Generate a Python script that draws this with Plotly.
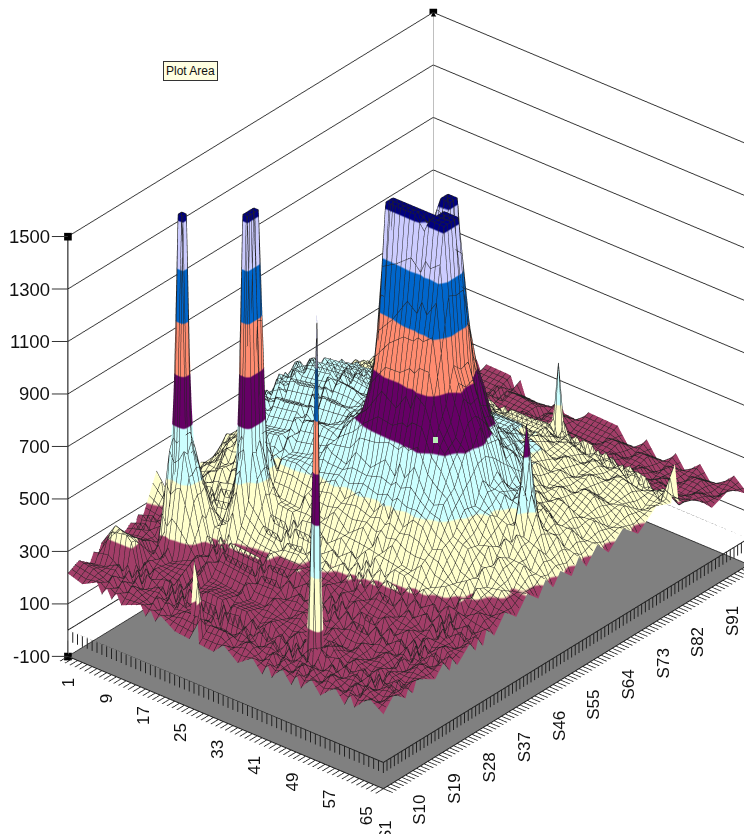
import plotly.graph_objects as go

x_nodes = [1,4,7,8,9,10,11,12,16,17,18,19,20,23,26,27,28,31,33,36,39,41,42,43,45,47,48,49,51,53,56,58,59,60,63,66]
y_nodes = [1,4,7,8,9,10,15,18,19,20,21,25,26,27,28,29,31,34,37,40,43,45,47,49,52,54,56,59,62,66,70,75,79,80,81,85,90,95,100]

z_rows = [
[216,240,205,238,212,252,226,262,230,276,248,400,262,305,276,300,318,280,330,296,322,284,336,290,328,296,340,300,356,322,372,318,352,302,340,296,304,262,268],
[198,232,214,250,330,345,240,284,248,296,262,318,286,322,296,334,300,378,352,436,402,468,428,492,452,498,444,480,416,452,384,418,344,388,330,342,262,286,228],
[228,204,246,210,340,325,268,232,292,256,314,282,338,298,352,318,392,372,470,450,536,498,566,520,590,532,576,488,524,426,462,376,402,338,372,280,292,232,256],
[190,236,198,242,320,318,222,284,250,304,272,340,306,362,322,378,356,456,448,552,522,590,552,618,576,624,556,590,496,528,430,452,354,402,344,326,244,268,208],
[222,196,238,200,244,208,266,600,640,610,620,298,352,318,378,336,420,414,516,510,590,552,622,580,644,588,622,546,566,476,494,402,414,350,388,278,286,220,248],
[186,232,194,240,202,252,224,560,1500,1500,640,300,362,320,382,342,428,420,526,520,598,562,632,592,656,600,634,552,570,482,500,404,416,354,390,274,284,218,246],
[218,194,236,192,244,210,270,580,1500,1500,660,356,316,376,336,398,378,480,480,578,552,626,586,656,616,660,590,614,522,542,450,460,362,404,342,322,234,260,200],
[180,230,188,238,210,240,226,620,600,640,610,310,368,330,392,352,438,430,540,530,612,576,648,606,676,616,650,566,580,490,506,408,420,352,392,270,282,210,244],
[212,188,230,186,238,208,262,258,322,280,338,318,380,340,404,366,450,446,552,544,624,590,662,622,686,624,660,574,590,498,512,412,426,358,398,274,284,206,242],
[176,228,182,236,192,244,290,256,318,274,336,450,610,640,600,620,454,452,556,548,628,594,666,628,690,626,662,576,594,500,516,414,428,360,400,272,282,204,240],
[208,182,232,176,240,206,232,304,264,324,284,600,1500,1500,1500,1500,620,508,508,606,578,654,616,684,638,676,608,630,540,558,462,472,372,416,344,324,226,254,186],
[172,224,170,234,188,244,280,250,312,270,334,620,1500,1500,1500,1500,640,460,564,556,636,600,672,630,692,620,660,574,594,502,518,416,428,358,400,268,280,200,238],
[204,176,228,172,236,200,226,298,258,316,278,430,610,600,640,590,412,516,516,612,584,660,620,686,636,672,604,628,538,556,460,472,370,412,342,320,222,250,184],
[166,216,176,228,172,238,218,290,250,312,272,362,324,388,346,410,406,522,530,622,592,664,622,684,624,668,596,624,532,552,458,470,368,410,340,318,218,248,180],
[160,212,170,226,165,232,210,284,242,306,266,350,314,380,336,402,398,500,560,610,630,640,650,640,660,620,650,580,600,510,500,420,410,370,380,300,230,236,190],
[470,196,222,156,232,182,262,230,294,254,318,300,366,326,390,350,452,470,592,598,666,622,680,630,672,604,642,562,582,494,510,412,422,352,392,264,270,190,228],
[156,202,158,218,168,226,206,270,238,294,262,334,306,372,332,386,420,486,574,640,684,650,700,650,660,640,630,590,566,504,500,416,414,360,384,290,224,226,182],
[150,210,152,226,162,226,202,274,236,298,260,342,304,368,328,394,394,520,554,716,714,780,712,744,650,678,600,620,530,546,456,466,366,404,338,314,216,240,176],
[192,154,212,146,222,172,250,218,282,242,306,284,350,310,374,336,440,464,616,754,1026,1500,1500,1180,886,736,706,584,588,496,508,412,416,350,388,260,266,186,224],
[146,206,148,222,156,226,196,264,224,288,248,328,290,354,316,382,382,514,580,846,1094,1500,1500,1320,1046,854,766,604,594,498,508,410,416,350,386,258,264,184,222],
[188,150,204,148,212,164,242,208,272,230,294,270,336,296,362,324,428,460,634,804,1186,1500,1500,1400,1500,1500,1020,654,604,502,510,410,420,358,396,258,262,182,220],
[142,202,150,204,156,222,186,256,216,278,238,316,278,344,304,370,370,510,586,866,1154,1450,1500,1350,1500,1500,1066,674,610,504,510,410,422,436,352,308,208,232,166],
[194,146,198,152,202,166,236,202,264,224,288,260,326,288,352,314,418,456,642,824,1206,1500,1500,1500,1100,934,826,634,596,500,510,412,394,660,388,310,208,232,166],
[144,198,150,198,158,214,182,252,210,274,232,308,270,336,296,362,362,506,594,886,1164,1500,1500,1500,1080,966,764,676,538,550,456,462,372,446,354,308,206,230,164],
[198,150,196,156,202,164,230,196,258,216,280,250,314,276,340,302,406,448,652,854,1226,1500,1500,1500,1060,894,796,614,582,492,504,406,418,352,390,254,256,176,214],
[148,206,160,1500,220,218,174,244,202,262,224,296,256,322,282,346,346,492,574,746,854,986,954,966,774,756,634,616,504,526,440,450,362,400,334,304,202,226,160],
[202,156,204,230,192,248,172,242,200,260,220,292,252,316,278,342,342,486,554,726,794,926,894,906,734,726,614,602,494,516,432,446,358,398,332,304,202,226,160],
[150,208,162,220,200,220,170,240,198,258,218,288,248,312,274,338,338,480,538,706,744,876,834,846,694,696,594,586,482,506,424,442,356,396,330,302,200,224,158],
[204,158,206,164,210,166,220,184,246,200,266,230,294,254,318,278,376,410,556,594,706,704,766,684,676,584,596,494,502,430,460,380,402,338,376,248,250,170,208],
[154,212,166,208,168,214,170,232,190,248,208,274,232,296,254,318,306,426,450,526,514,596,554,596,504,536,462,490,414,454,388,420,342,382,318,298,196,220,154],
[208,162,208,168,212,170,224,178,238,192,254,214,276,232,294,252,334,322,426,414,502,480,546,504,516,446,484,414,450,386,426,356,384,322,362,244,246,166,206],
[158,216,170,212,172,218,174,232,186,242,198,260,216,276,232,292,264,346,334,426,398,466,444,586,434,472,408,446,382,422,360,396,324,366,304,294,192,218,156],
[212,166,212,170,214,172,228,178,236,188,248,206,266,220,280,236,310,286,374,360,436,404,546,826,454,466,400,438,374,416,354,390,320,362,300,292,192,218,158],
[162,220,174,216,176,222,178,232,182,238,194,256,210,268,224,284,252,330,310,398,370,442,414,566,404,450,388,428,366,408,346,384,316,358,296,290,190,218,160],
[222,176,222,180,224,182,238,184,240,190,248,202,258,210,268,222,288,250,322,292,366,326,392,354,398,342,388,328,372,314,360,300,342,284,330,232,242,170,216],
[183,236,192,234,194,240,196,252,194,254,198,258,210,266,210,268,224,288,244,306,262,318,270,316,270,326,272,330,274,332,276,338,314,456,300,288,202,232,166],
]

for i, r in enumerate(z_rows):
    if len(r) != len(y_nodes):
        raise ValueError(f"row {i} has {len(r)}")
if len(z_rows) != len(x_nodes):
    raise ValueError(f"rows {len(z_rows)}")

z_by_y = [list(c) for c in zip(*z_rows)]

band_edges = [-100, 100, 300, 500, 700, 900, 1100, 1300, 1480, 1500]
band_colors = ["#808080", "#A23E68", "#FFFFCC", "#CCFFFF", "#660066", "#FF8C70", "#0066CC", "#CCCCFF", "#000080"]

zmin, zmax = -100, 1500
scale = []
for i, col in enumerate(band_colors):
    scale.append([(band_edges[i] - zmin) / (zmax - zmin), col])
    scale.append([(band_edges[i + 1] - zmin) / (zmax - zmin), col])

x_ticks = list(range(1, 67))
y_ticks = list(range(1, 101))
x_label_vals = [1, 9, 17, 25, 33, 41, 49, 57, 65]
y_label_vals = [1, 10, 19, 28, 37, 46, 55, 64, 73, 82, 91]
z_ticks = [-100, 100, 300, 500, 700, 900, 1100, 1300, 1500]

fig = go.Figure()
fig.add_trace(go.Surface(
    x=x_nodes, y=y_nodes, z=z_by_y,
    surfacecolor=z_by_y, cmin=zmin, cmax=zmax, colorscale=scale, showscale=False,
    lighting=dict(ambient=1, diffuse=0, specular=0, roughness=1, fresnel=0),
    contours=dict(
        x=dict(show=True, start=1, end=66, size=1, color="#222222", width=1),
        y=dict(show=True, start=1, end=100, size=1, color="#222222", width=1),
        z=dict(show=False)),
    hoverinfo="skip"))

# base line at z=0 and its hatch marks
hx, hy, hz = [], [], []
for v in x_ticks:
    hx += [v, v, None]; hy += [1, 1, None]; hz += [0, -40, None]
for v in y_ticks:
    hx += [66, 66, None]; hy += [v, v, None]; hz += [0, -40, None]
hx += [1, 66, 66, 1, 1]; hy += [1, 1, 100, 100, 1]; hz += [0, 0, 0, 0, 0]
fig.add_trace(go.Scatter3d(x=hx, y=hy, z=hz, mode="lines", line=dict(color="#222222", width=2), hoverinfo="skip"))
# front edges of the floor
fig.add_trace(go.Scatter3d(x=[1, 66, 66], y=[1, 1, 100], z=[-100, -100, -100], mode="lines",
                           line=dict(color="#222222", width=2), hoverinfo="skip"))

# corner verticals
fig.add_trace(go.Scatter3d(x=[1, 1], y=[1, 1], z=[-100, 1500], mode="lines", line=dict(color="#000000", width=2), hoverinfo="skip"))
fig.add_trace(go.Scatter3d(x=[1, 1], y=[100, 100], z=[-100, 1500], mode="lines", line=dict(color="#808080", width=2), hoverinfo="skip"))
# selection handles
fig.add_trace(go.Scatter3d(x=[1, 1, 1], y=[100, 1, 1], z=[1500, 1500, -100], mode="markers",
                           marker=dict(symbol="square", size=4, color="#000000"), hoverinfo="skip"))

z_font = dict(family="Liberation Sans", size=18.5, color="#111111")
cat_font = dict(family="Liberation Sans", size=17, color="#111111")

def ax(**kw):
    base = dict(title=dict(text=""), showspikes=False, showline=False, zeroline=False, showticklabels=False,
                ticks="outside", tickcolor="#222222", ticklen=12, tickwidth=2)
    base.update(kw)
    return base

aspect = dict(x=0.982, y=1.375, z=1.169)
D = 1.667
d = (0.549, -0.664, 0.507)
c = (-0.0543, -0.0711, -0.0342)

notes = [dict(x=1, y=1, z=v, text=str(v), showarrow=True, arrowhead=0, arrowwidth=1, arrowcolor="#333333",
              ax=-16, ay=0, xanchor="right", yanchor="middle", font=z_font) for v in z_ticks]
for v in x_label_vals:
    f = (v - 1) / 65
    notes.append(dict(x=v, y=1, z=-100, text=str(v), showarrow=False, textangle=-90, font=cat_font,
                      xanchor="center", yanchor="middle", xshift=1 - 13 * f, yshift=-(26 + 3 * f)))
for v in y_label_vals:
    f = (v - 1) / 99
    notes.append(dict(x=66, y=v, z=-100, text="S" + str(v), showarrow=False, textangle=-90, font=cat_font,
                      xanchor="center", yanchor="middle", xshift=2 + 16.5 * f, yshift=-(42 - 6 * f)))

fig.update_layout(
    width=744, height=834, margin=dict(l=0, r=0, t=0, b=0),
    paper_bgcolor="white", showlegend=False,
    scene=dict(
        domain=dict(x=[0, 1], y=[0, 1]),
        aspectmode="manual", aspectratio=aspect,
        annotations=notes,
        camera=dict(projection=dict(type="orthographic"),
                    up=dict(x=0, y=0, z=1),
                    center=dict(x=c[0], y=c[1], z=c[2]),
                    eye=dict(x=c[0] + D * d[0], y=c[1] + D * d[1], z=c[2] + D * d[2])),
        xaxis=ax(range=[1, 66.02], tickvals=x_ticks, showgrid=False, showbackground=True, backgroundcolor="white"),
        yaxis=ax(range=[1, 100], tickvals=y_ticks, showgrid=False, showbackground=True, backgroundcolor="white"),
        zaxis=ax(range=[-100, 1501], tickvals=z_ticks, ticks="", showgrid=True, gridcolor="#333333", gridwidth=2,
                 showbackground=True, backgroundcolor="#808080"),
    ),
    annotations=[dict(text="Plot Area", xref="paper", yref="paper", x=190.5 / 744, y=1 - 70.5 / 834,
                      xanchor="center", yanchor="middle", showarrow=False,
                      font=dict(family="Liberation Sans", size=12, color="#111111"),
                      bgcolor="#FFFFE1", bordercolor="#333333", borderwidth=1, borderpad=2)],
    shapes=[dict(type="rect", xref="paper", yref="paper", x0=433 / 744, x1=438 / 744, y0=1 - 443 / 834, y1=1 - 437 / 834,
                 fillcolor="#B8F0B8", line=dict(width=0), layer="above")],
)
fig.write_html("out.html", config={"displayModeBar": False},
               post_script="document.body.style.margin='0';document.documentElement.style.overflow='hidden';")
